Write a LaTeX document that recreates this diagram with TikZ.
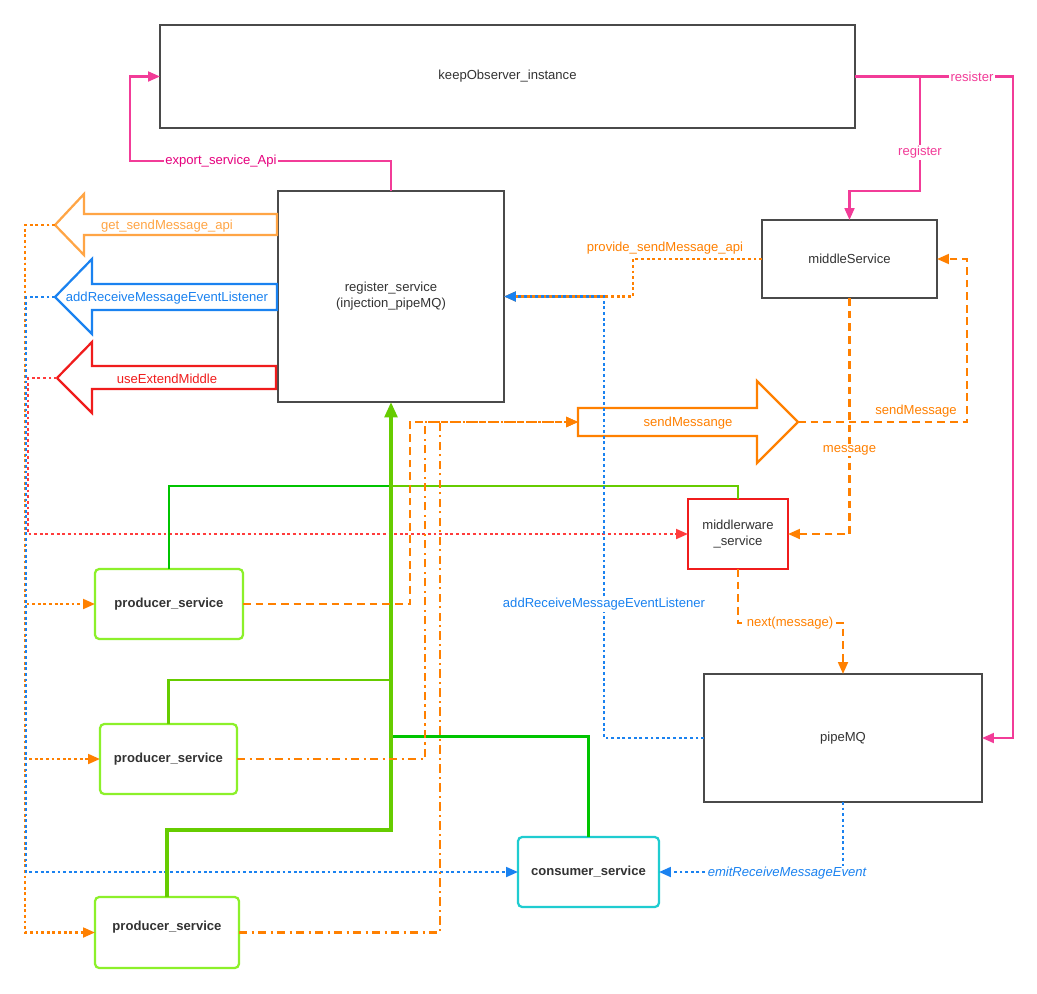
\documentclass[tikz,border=0pt]{standalone}
\usepackage{fontspec}
\setmainfont{Liberation Sans}
\usetikzlibrary{arrows.meta}

\definecolor{boxgray}{HTML}{4A4A4A}
\definecolor{txtgray}{HTML}{333333}
\definecolor{boxgreen}{HTML}{8CF02A}
\definecolor{boxcyan}{HTML}{1FCCD0}
\definecolor{boxred}{HTML}{F01C1C}
\definecolor{linepink}{HTML}{F23C98}
\definecolor{pinktext}{HTML}{E6007E}
\definecolor{lineorange}{HTML}{FF8000}
\definecolor{lightorange}{HTML}{FFA545}
\definecolor{lineblue}{HTML}{1A82F0}
\definecolor{linered}{HTML}{FF3C3C}
\definecolor{greendark}{HTML}{00C400}
\definecolor{greenlight}{HTML}{66CC00}

\begin{document}
\begin{tikzpicture}[x=0.025cm, y=-0.025cm, >={Triangle[length=8.5pt,width=7pt]},
	every node/.style={font=\fontsize{9.3}{11.5}\selectfont, text=txtgray, inner sep=0pt, outer sep=0pt},
	boxsize/.style 2 args={minimum width=#1*0.025cm, minimum height=#2*0.025cm},
	grayBox/.style={draw=boxgray, line width=1.6pt, align=center},
	redBox/.style={grayBox, draw=boxred},
	greenBox/.style={draw=boxgreen, line width=1.6pt, rounded corners=3pt, font=\fontsize{9.3}{11.5}\selectfont\bfseries},
	cyanBox/.style={greenBox, draw=boxcyan},
	lbl/.style={fill=white, inner sep=1pt},
	pinkLine/.style={draw=linepink, line width=1.6pt},
	oDot/.style={draw=lineorange, line width=1.6pt, dash pattern=on 2pt off 2pt},
	oDash/.style={draw=lineorange, line width=1.6pt, dash pattern=on 5.5pt off 3.5pt},
	oDashDot/.style={draw=lineorange, line width=1.6pt, dash pattern=on 6pt off 3pt on 1.5pt off 3pt},
	bDot/.style={draw=lineblue, line width=1.6pt, dash pattern=on 2pt off 2pt},
	rDot/.style={draw=linered, line width=1.6pt, dash pattern=on 2pt off 2pt},
	gDark/.style={draw=greendark, line width=1.6pt},
	gLight/.style={draw=greenlight, line width=1.6pt},
	gThick/.style={draw=greenlight, line width=2.6pt, -{Triangle[length=11pt,width=9pt]}},
	bigArrow/.style={line width=1.6pt, line join=miter}
	]
	\fill[white] (0,0) rectangle (1037,993);
	\useasboundingbox (0,0) rectangle (1037,993);

	% boxes
	\node[grayBox, boxsize={695}{103}] (keep) at (507.5,76.5) {keepObserver\_instance};
	\node[grayBox, boxsize={226}{211}] (reg) at (391,296.5) {register\_service\\(injection\_pipeMQ)};
	\node[grayBox, boxsize={175}{78}] (mid) at (849.5,259) {middleService};
	\node[redBox, boxsize={100}{70}] (mw) at (738,534) {middlerware\\\_service};
	\node[grayBox, boxsize={278}{128}] (pipe) at (843,738) {pipeMQ};
	\node[greenBox, boxsize={148}{70}] (p1) at (169,604) {producer\_service};
	\node[greenBox, boxsize={137}{70}] (p2) at (168.5,759) {producer\_service};
	\node[greenBox, boxsize={144}{71}, text depth=10pt] (p3) at (167,932.5) {producer\_service};
	\node[cyanBox, boxsize={141}{70}] (cons) at (588.5,872) {consumer\_service};

	% big arrows
	\draw[bigArrow, draw=lightorange] (277,214) -- (84,214) -- (84,194) -- (55,225) -- (84,255) -- (84,235) -- (277,235) -- cycle;
	\draw[bigArrow, draw=lineblue] (277,284) -- (92,284) -- (92,259) -- (55,297) -- (92,334) -- (92,310) -- (277,310) -- cycle;
	\draw[bigArrow, draw=boxred] (276,366) -- (92,366) -- (92,342) -- (57,378) -- (92,413) -- (92,389) -- (276,389) -- cycle;
	\draw[bigArrow, draw=lineorange] (578,408) -- (757,408) -- (757,381) -- (798,422) -- (757,463) -- (757,436) -- (578,436) -- cycle;
	\coordinate (gettip) at (55,225);
	\coordinate (addtip) at (55,297);
	\coordinate (usetip) at (57,378);
	\coordinate (sendtail) at (578,422);
	\coordinate (sendtip) at (798,422);
	\coordinate (rbranch) at (920,76.5);

	% keepObserver links
	\draw[pinkLine, ->] (reg.north) |- (130,161) |- (keep.west);
	\draw[pinkLine, ->] (keep.east) -- (1013,76.5) |- (pipe.east);
	\draw[pinkLine, ->] (rbranch) |- (849.5,191) -- (mid.north);

	% left api lines
	\draw[oDot, ->] (gettip) -- (25,225) |- (p1.west);
	\draw[oDot, ->] (gettip) -- (25,225) |- (p2.west);
	\draw[oDot, ->] (gettip) -- (25,225) |- (p3.west);
	\draw[bDot, ->] (addtip) -- (26,297) |- (cons.west);
	\draw[rDot, ->] (usetip) -- (28,378) |- (mw.west);

	% green links
	\draw[gDark] (p1.north) |- (391,486);
	\draw[gLight] (391,486) -| (mw.north);
	\draw[gLight] (p2.north) |- (391,680);
	\draw[gDark] (cons.north) |- (391,736.5);
	\draw[gThick] (p3.north) |- (391,830) -- (reg.south);

	% producers to sendMessange
	\draw[oDash, ->] (p1.east) -| (410,422) -- (sendtail);
	\draw[oDashDot, ->] (p2.east) -| (425,422) -- (sendtail);
	\draw[oDashDot, ->] (p3.east) -| (440,422) -- (sendtail);

	% middle links
	\draw[oDash, ->] (sendtip) -- (967,422) |- (mid.east);
	\draw[oDash, ->] (mid.south) |- (mw.east);
	\draw[oDot, ->] (mid.west) -| (633,296.5) -- (reg.east);
	\draw[bDot, ->] (pipe.west) -| (604,296.5) -- (reg.east);
	\draw[oDash, ->] (mw.south) |- (843,623) -- (pipe.north);
	\draw[bDot, ->] (pipe.south) |- (cons.east);

	% labels
	\node[lbl, text=pinktext] (lexport) at (221,161) {export\_service\_Api};
	\node[lbl, text=linepink] (lresister) at (972,76.5) {resister};
	\node[lbl, text=linepink] (lregister) at (920,152) {register};
	\node[text=lightorange] (lget) at (167,226) {get\_sendMessage\_api};
	\node[text=lineblue] (ladd) at (167,298) {addReceiveMessageEventListener};
	\node[text=boxred] (luse) at (167,379) {useExtendMiddle};
	\node[text=lineorange] (lsend) at (688,423) {sendMessange};
	\node[text=lineorange] (lprovide) at (665,248) {provide\_sendMessage\_api};
	\node[text=lineorange] (lsendmsg) at (916,411) {sendMessage};
	\node[lbl, text=lineorange] (lmessage) at (849.5,450) {message};
	\node[lbl, text=lineblue] (laddmid) at (604,604) {addReceiveMessageEventListener};
	\node[lbl, text=lineorange] (lnext) at (790,623) {next(message)};
	\node[lbl, text=lineblue, font=\fontsize{9.3}{11.5}\selectfont\itshape] (lemit) at (787,873) {emitReceiveMessageEvent};
\end{tikzpicture}
\end{document}
